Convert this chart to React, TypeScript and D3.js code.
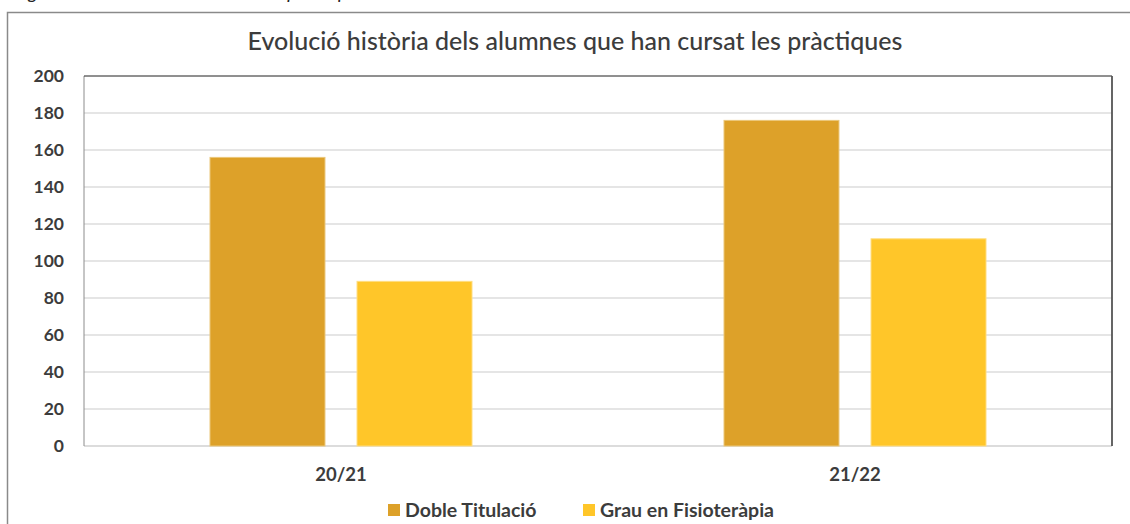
import React from "react";
import * as d3 from "d3";

const categories = ["20/21", "21/22"];
const seriesNames = ["Doble Titulació", "Grau en Fisioteràpia"];
const dobleTitulacio = [156, 176];
const grauFisioterapia = [89, 112];
const yTicks = [0, 20, 40, 60, 80, 100, 120, 140, 160, 180, 200];
const colors = ["#DDA129", "#FFC629"];
const strokes = ["#EBC77A", "#FFDD80"];

const W = 1130;
const H = 524;
const plot = { left: 84, right: 1112, top: 76, bottom: 446 };
const FONT = "Lato, 'Open Sans', sans-serif";
const TEXT = "#3c3c3c";

export default function App() {
  const series = [dobleTitulacio, grauFisioterapia];
  const y = d3.scaleLinear().domain([0, 200]).range([plot.bottom, plot.top]);
  const x0 = d3.scaleBand<string>().domain(categories).range([plot.left, plot.right]).padding(0);
  const groupW = 262;
  const off = (x0.bandwidth() - groupW) / 2;
  const x1 = d3
    .scaleBand<string>()
    .domain(seriesNames)
    .range([off, off + groupW])
    .paddingInner(0.218)
    .paddingOuter(0);

  return (
    <svg
      width={W}
      height={H}
      style={{ position: "absolute", left: 0, top: 0, background: "#fff" }}
      xmlns="http://www.w3.org/2000/svg"
    >
      <rect x={0} y={0} width={W} height={H} fill="#fff" />
      <text
        x={14}
        y={-1}
        fontFamily={FONT}
        fontStyle="italic"
        fontSize={19}
        fill="#222"
      >
        Figura 3: Evolució dels alumnes en pràctiques
      </text>
      {/* outer frame */}
      <path d={`M7.5,${H + 5} V12.5 H${W + 5}`} fill="none" stroke="#8a8a8a" strokeWidth={1.5} />

      {/* title */}
      <text
        x={575}
        y={50}
        textAnchor="middle"
        fontFamily={FONT}
        fontSize={25}
        fontWeight={500}
        fill={TEXT}
      >
        Evolució història dels alumnes que han cursat les pràctiques
      </text>

      {/* gridlines */}
      {yTicks.map((t) => (
        <line
          key={t}
          x1={plot.left}
          x2={plot.right}
          y1={y(t)}
          y2={y(t)}
          stroke="#dcdcdc"
          strokeWidth={t === 0 ? 2 : 1.5}
        />
      ))}

      {/* plot frame */}
      <line x1={plot.left} x2={plot.left} y1={plot.top} y2={plot.bottom} stroke="#8c8c8c" strokeWidth={1} />
      <line x1={plot.left} x2={plot.right} y1={plot.top} y2={plot.top} stroke="#3a3a3a" strokeWidth={1} />
      <line x1={plot.right} x2={plot.right} y1={plot.top} y2={plot.bottom} stroke="#555" strokeWidth={1.8} />

      {/* bars */}
      {categories.map((c, ci) => (
        <g key={c} transform={`translate(${x0(c)},0)`}>
          {seriesNames.map((s, si) => (
            <rect
              key={s}
              x={x1(s)}
              y={y(series[si][ci])}
              width={x1.bandwidth()}
              height={y(0) - y(series[si][ci])}
              fill={colors[si]}
              stroke={strokes[si]}
              strokeWidth={1}
            />
          ))}
        </g>
      ))}

      {/* y tick labels */}
      {yTicks.map((t) => (
        <text
          key={t}
          x={64}
          y={y(t)}
          dy="0.36em"
          textAnchor="end"
          fontFamily={FONT}
          fontWeight="bold"
          fontSize={17.5}
          fill={TEXT}
        >
          {t}
        </text>
      ))}

      {/* x labels */}
      {categories.map((c) => (
        <text
          key={c}
          x={(x0(c) as number) + x0.bandwidth() / 2}
          y={481}
          textAnchor="middle"
          fontFamily={FONT}
          fontWeight="bold"
          fontSize={18.5}
          fill={TEXT}
        >
          {c}
        </text>
      ))}

      {/* legend */}
      {seriesNames.map((s, i) => {
        const lx = [388, 583][i];
        return (
          <g key={s}>
            <rect x={lx} y={504} width={12} height={12} fill={colors[i]} />
            <text
              x={lx + 17}
              y={517}
              fontFamily={FONT}
              fontWeight="bold"
              fontSize={19.5}
              fill={TEXT}
            >
              {s}
            </text>
          </g>
        );
      })}
    </svg>
  );
}
